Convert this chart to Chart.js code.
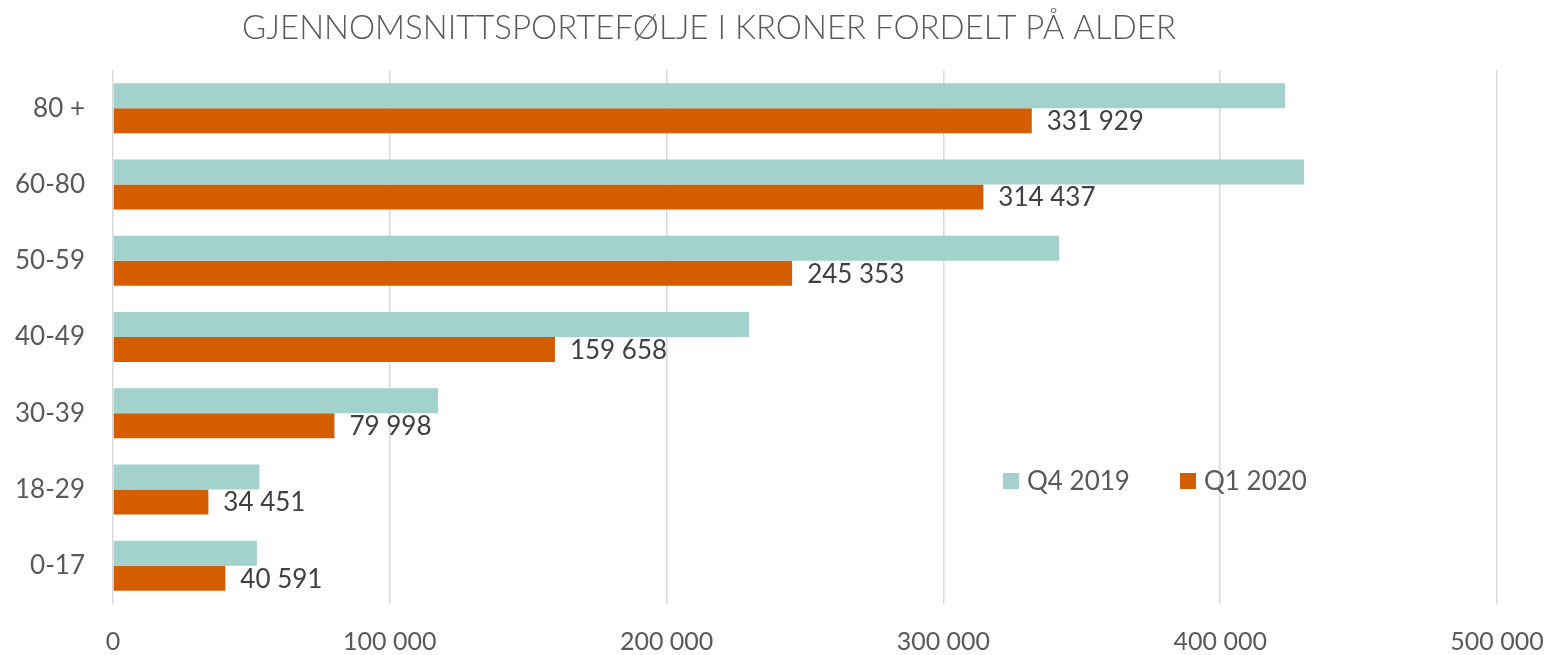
<!DOCTYPE html>
<html>
<head>
<meta charset="utf-8">
<script src="https://cdn.jsdelivr.net/npm/chart.js@4.4.1/dist/chart.umd.min.js"></script>
<style>
  body { margin: 0; background: #fff; }
  #wrap { width: 1553px; height: 655px; }
</style>
</head>
<body>
<div id="wrap"><canvas id="portefolje"></canvas></div>
<script>
const title = 'GJENNOMSNITTSPORTEFØLJE I KRONER FORDELT PÅ ALDER';
const ageGroups = ['80 +', '60-80', '50-59', '40-49', '30-39', '18-29', '0-17'];
const q4_2019 = [423400, 430300, 341800, 229800, 117400, 52900, 52000];
const q1_2020 = [331929, 314437, 245353, 159658, 79998, 34451, 40591];
const xTicks = [0, 100000, 200000, 300000, 400000, 500000];

const fontFam = 'Lato, "Noto Sans", sans-serif';

// 331929 -> "331 929"
function kr(v) {
    return String(Math.round(v)).replace(/\B(?=(\d{3})+(?!\d))/g, ' ');
}

// values at the end of the orange bars
const valueLabels = {
    id: 'valueLabels',
    afterDatasetsDraw(chart) {
        const ctx = chart.ctx;
        const meta = chart.getDatasetMeta(1);
        ctx.save();
        ctx.font = '26px ' + fontFam;
        ctx.fillStyle = '#404040';
        ctx.textAlign = 'left';
        ctx.textBaseline = 'middle';
        meta.data.forEach((bar, i) => {
            ctx.fillText(kr(q1_2020[i]), bar.x + 15, bar.y + 1);
        });
        ctx.restore();
    }
};

// title + legend sitting inside the plot, like the original
const extras = {
    id: 'extras',
    afterDraw(chart) {
        const ctx = chart.ctx;
        const area = chart.chartArea;
        ctx.save();
        ctx.font = '300 33px ' + fontFam;
        ctx.fillStyle = '#595959';
        ctx.textAlign = 'center';
        ctx.textBaseline = 'middle';
        ctx.fillText(title, 709, 28);

        ctx.font = '26px ' + fontFam;
        ctx.textAlign = 'left';
        let x = area.left + 890;
        const y = 481;
        chart.data.datasets.forEach(ds => {
            ctx.fillStyle = ds.backgroundColor;
            ctx.fillRect(x, y - 8, 16, 16);
            ctx.fillStyle = '#595959';
            ctx.fillText(ds.label, x + 24, y + 1);
            x += 177;
        });
        ctx.restore();
    }
};

const config = {
    type: 'bar',
    data: {
        labels: ageGroups,
        datasets: [
            { label: 'Q4 2019', data: q4_2019, backgroundColor: '#a2d2cb' },
            { label: 'Q1 2020', data: q1_2020, backgroundColor: '#d45d00' }
        ]
    },
    options: {
        indexAxis: 'y',
        responsive: true,
        maintainAspectRatio: false,
        animation: false,
        layout: { padding: { top: 70, right: 56, left: 0, bottom: 0 } },
        datasets: { bar: { categoryPercentage: 0.655, barPercentage: 1 } },
        plugins: {
            legend: { display: false },
            title: { display: false },
            tooltip: { enabled: false }
        },
        scales: {
            x: {
                min: 0,
                max: 500000,
                afterBuildTicks: s => { s.ticks = xTicks.map(v => ({ value: v })); },
                afterFit: s => { s.height = 51; s.paddingLeft = 0; s.paddingRight = 0; },
                grid: { color: '#d9d9d9', lineWidth: 1.5, drawTicks: false },
                border: { display: false },
                ticks: {
                    padding: 23,
                    color: '#595959',
                    font: { size: 25, family: fontFam },
                    callback: v => kr(v)
                }
            },
            y: {
                afterFit: s => { s.width = 113; },
                grid: { display: false, drawTicks: false },
                border: { display: false },
                ticks: {
                    padding: 28,
                    color: '#595959',
                    font: { size: 26, family: fontFam }
                }
            }
        }
    },
    plugins: [valueLabels, extras]
};

const portCtx = document.getElementById('portefolje');
const portChart = new Chart(portCtx, config);
</script>
</body>
</html>
